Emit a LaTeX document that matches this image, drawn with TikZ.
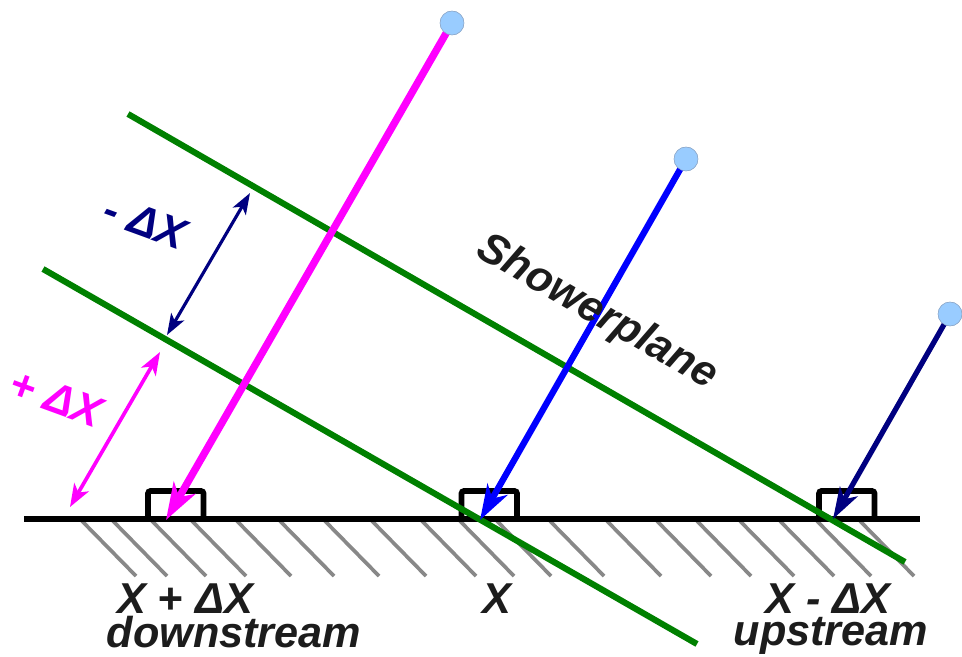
\documentclass[tikz,border=0pt]{standalone}
\usepackage{fontspec}
\setmainfont{Liberation Sans}
\usetikzlibrary{arrows.meta}
\definecolor{mag}{HTML}{FF00FF}
\definecolor{blu}{HTML}{0000FF}
\definecolor{nav}{HTML}{000080}
\definecolor{grn}{HTML}{008000}
\definecolor{hat}{HTML}{888888}
\definecolor{src}{HTML}{99CCFF}
\definecolor{srcb}{HTML}{8FA8C8}
\definecolor{txt}{HTML}{1C1C1C}
\begin{document}
\begin{tikzpicture}[x=0.02cm,y=-0.02cm,
  lbl/.style={font=\fontsize{24.6}{28}\selectfont\bfseries\itshape, text=txt, inner sep=0pt},
  hatchline/.style={draw=hat, line width=2.1pt},
  plane/.style={draw=grn, line width=3.5pt},
  ground/.style={draw=black, line width=3.8pt},
  detbox/.style={draw=black, line width=3.3pt, rounded corners=1.5pt},
  source/.style={circle, fill=src, draw=srcb, line width=0.3pt, minimum size=13.6pt, inner sep=0pt}
]
\useasboundingbox (0,0) rectangle (962,656);
% hatching
\foreach \s in {82,113,152,192,237,280,325,372,422,460,497,550,607,657,697,740,780,817,860}
  \draw[hatchline] (\s,521) -- ++(54,55);
% ground
\coordinate (gl) at (24,519);
\coordinate (gr) at (920,519);
\draw[ground] (gl) -- (gr);
% detector boxes
\draw[detbox] (148,519) -- (148,491) -- (203.5,491) -- (203.5,519);
\draw[detbox] (461.5,519) -- (461.5,491) -- (517,491) -- (517,519);
\draw[detbox] (819,519) -- (819,491) -- (874.5,491) -- (874.5,519);
% shower planes
\coordinate (pu1) at (128,114);
\coordinate (pu2) at (905,562);
\coordinate (pl1) at (43,269);
\coordinate (pl2) at (697,644);
\draw[plane] (pu1) -- (pu2);
\draw[plane] (pl1) -- (pl2);
% rays
\node[source] (s1) at (452,23) {};
\node[source] (s2) at (686,159) {};
\node[source] (s3) at (950,314) {};
\coordinate (t1) at (166,520);
\coordinate (t2) at (480,520);
\coordinate (t3) at (833,519);
\draw[draw=mag, line width=4.2pt, -{Stealth[length=21pt,width=14pt,inset=6pt]}] (s1.center) -- (t1);
\draw[draw=blu, line width=3.6pt, -{Stealth[length=20pt,width=13pt,inset=6pt]}] (s2.center) -- (t2);
\draw[draw=nav, line width=3pt, -{Stealth[length=18pt,width=11.5pt,inset=5pt]}] (s3.center) -- (t3);
\node[source] at (s1) {};
\node[source] at (s2) {};
\node[source] at (s3) {};
% distance arrows
\coordinate (na) at (250,193);
\coordinate (nb) at (167,335);
\draw[draw=nav, line width=1.8pt, {Stealth[length=12pt,width=8.5pt,inset=3pt]}-{Stealth[length=12pt,width=8.5pt,inset=3pt]}] (na) -- (nb);
\coordinate (ma) at (160,352);
\coordinate (mb) at (70,507);
\draw[draw=mag, line width=2.1pt, {Stealth[length=13pt,width=9.5pt,inset=3.5pt]}-{Stealth[length=13pt,width=9.5pt,inset=3.5pt]}] (ma) -- (mb);
% labels
\node[lbl, text=nav, rotate=-20] (lminus) at (145,222) {- ΔX};
\node[lbl, text=mag, rotate=-20] (lplus) at (56,398) {+ ΔX};
\node[lbl, rotate=-30] (lshower) at (597,313) {Showerplane};
\node[lbl, anchor=base] (l1) at (185,613) {X + ΔX};
\node[lbl, anchor=base] (l1b) at (234,647) {downstream};
\node[lbl, anchor=base] (l2) at (497,613) {X};
\node[lbl, anchor=base] (l3) at (828,613) {X - ΔX};
\node[lbl, anchor=base] (l3b) at (831,645) {upstream};
\end{tikzpicture}
\end{document}
